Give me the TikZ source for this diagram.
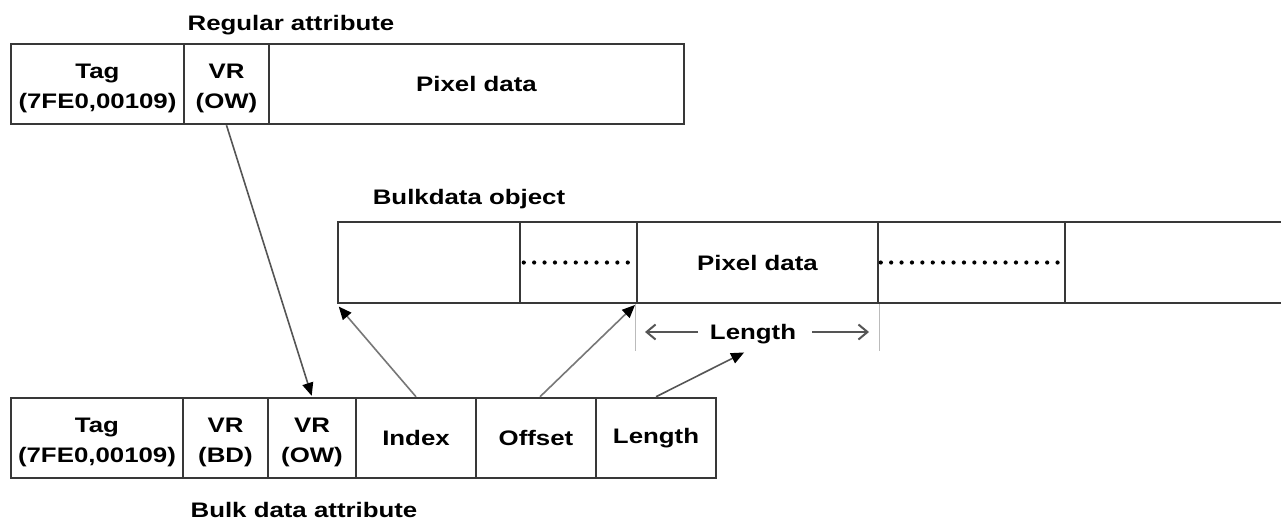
\documentclass[tikz,border=0pt]{standalone}
\usepackage{fontspec}
\setmainfont{Liberation Sans}[FakeStretch=1.23]
\usetikzlibrary{arrows.meta}
\definecolor{edge}{HTML}{383838}
\definecolor{arr}{HTML}{555555}
\definecolor{arrlight}{HTML}{777777}
\definecolor{dimc}{HTML}{BBBBBB}
\begin{document}
\begin{tikzpicture}[x=1pt,y=-1pt,
  cell/.style={draw=edge, line width=2.5pt, minimum height=80pt, inner sep=0pt,
    align=center, font=\fontsize{21}{30}\selectfont\bfseries},
  twoline/.style={yshift=-4pt},
  lbl/.style={font=\fontsize{21}{25}\selectfont\bfseries, inner sep=0pt, anchor=base},
  link/.style={draw=arr, line width=1.6pt, -{Triangle[length=13pt,width=11pt,color=black]}, shorten >=1pt},
  linklight/.style={draw=arrlight, line width=1.6pt, -{Triangle[length=13pt,width=11pt,color=black]}},
  dimline/.style={draw=dimc, line width=1pt},
  dimarrow/.style={draw=arr, line width=2pt, -{Straight Barb[length=9pt,width=15pt]}},
  dotrow/.style={draw=black, line width=4.2pt, line cap=round, dash pattern=on 0pt off 10.4pt}]
\useasboundingbox[fill=white] (0,0) rectangle (1281,520);

% Regular attribute
\node[lbl] (lreg) at (291,30) {Regular attribute};
\node[cell, minimum width=173pt] (rtag) at (97.5,84) {};
\node[cell, minimum width=85pt] (rvr) at (226.5,84) {};
\node[cell, minimum width=415pt] (rpix) at (476.5,84) {Pixel data};
\node[cell, draw=none, twoline] (rtagt) at (rtag) {Tag\\(7FE0,00109)};
\node[cell, draw=none, twoline] (rvrt) at (rvr) {VR\\(OW)};

% Bulkdata object
\node[lbl] (lobj) at (469,204) {Bulkdata object};
\node[cell, minimum height=81pt, minimum width=182pt] (b1) at (429,262.5) {};
\node[cell, minimum height=81pt, minimum width=117pt] (b2) at (578.5,262.5) {};
\node[cell, minimum height=81pt, minimum width=241pt] (b3) at (757.5,262.5) {Pixel data};
\node[cell, minimum height=81pt, minimum width=187pt] (b4) at (971.5,262.5) {};
\node[cell, minimum height=81pt, minimum width=240pt] (b5) at (1185,262.5) {};
\draw[dotrow] ([xshift=5pt]b2.west) -- ([xshift=-4pt]b2.east);
\draw[dotrow] ([xshift=4pt]b4.west) -- ([xshift=-6pt]b4.east);

% Length dimension
\node[lbl] (dimlbl) at (753,339) {Length};
\draw[dimline] (b3.south west) -- ++(0,47);
\draw[dimline] (b3.south east) -- ++(0,47);
\coordinate (dl) at (645,332);
\coordinate (dr) at (869,332);
\draw[dimarrow] (698,332) -- (dl);
\draw[dimarrow] (812,332) -- (dr);

% Bulk data attribute
\node[cell, minimum width=172pt] (c1) at (97,438) {};
\node[cell, minimum width=85pt] (c2) at (225.5,438) {};
\node[cell, minimum width=88pt] (c3) at (312,438) {};
\node[cell, minimum width=120pt] (c4) at (416,438) {Index};
\node[cell, minimum width=120pt] (c5) at (536,438) {Offset};
\node[cell, minimum width=120pt] (c6) at (656,438) {Length};
\node[cell, draw=none, twoline] (c1t) at (c1) {Tag\\(7FE0,00109)};
\node[cell, draw=none, twoline] (c2t) at (c2) {VR\\(BD)};
\node[cell, draw=none, twoline] (c3t) at (c3) {VR\\(OW)};
\node[lbl] (lbulk) at (304,517) {Bulk data attribute};

% connectors
\coordinate (lentip) at (745,352);
\draw[link] (rvr.south) -- (c3.north);
\draw[linklight, shorten >=3pt] (c4.north) -- (b1.south west);
\draw[linklight, shorten >=1pt] ([xshift=4pt]c5.north) -- (b3.south west);
\draw[link] (c6.north) -- (lentip);
\end{tikzpicture}
\end{document}
